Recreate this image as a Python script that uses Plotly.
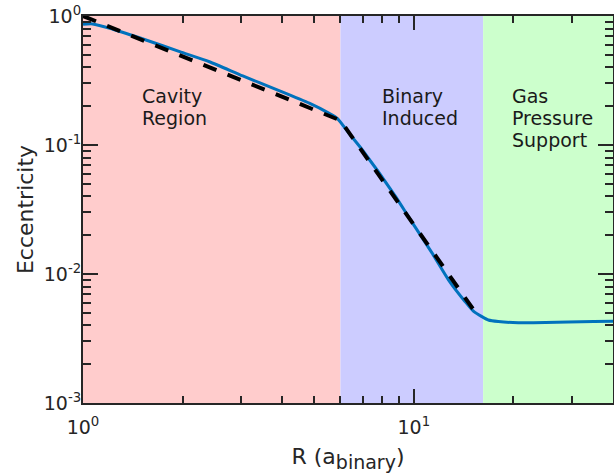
import numpy as np
import plotly.graph_objects as go

# ---- data ----
region_bounds = [1.0, 6.0, 16.2, 40.0]
region_lines = [["Cavity", "Region"], ["Binary", "Induced"], ["Gas", "Pressure", "Support"]]
region_colors = ["#FFCCCC", "#CCCCFF", "#CCFFCC"]

sim_R = [1.00, 1.07, 1.23, 1.55, 1.96, 2.41, 3.04, 3.83, 4.83, 5.55, 5.87, 6.37,
         6.99, 8.8, 9.66, 11.36, 12.74, 14.3, 15.2, 16.07, 16.8, 18.0, 20.7, 25.0,
         29.3, 35.0, 40.0]
sim_e = [0.862, 0.868, 0.79, 0.652, 0.529, 0.442, 0.343, 0.270, 0.211, 0.176, 0.161, 0.123,
         0.0915, 0.040, 0.0275, 0.0145, 0.00898, 0.0061, 0.0051, 0.00467, 0.0044, 0.00428,
         0.00419, 0.0042, 0.00424, 0.00428, 0.0043]

fit_R = [1.0, 6.0, 15.3]
fit_e = [1.0, 0.155, 0.0051]

x_major = [1, 10]
x_major_text = ["10<sup>0</sup>", "10<sup>1</sup>"]
x_minor = [2, 3, 4, 5, 6, 7, 8, 9, 20, 30, 40]
y_major = [1e-3, 1e-2, 1e-1, 1]
y_major_text = ["10<sup>-3</sup>", "10<sup>-2</sup>", "10<sup>-1</sup>", "10<sup>0</sup>"]
y_minor = [m * 10.0 ** p for p in (-3, -2, -1) for m in range(2, 10)]

y_lo, y_hi = 1e-3, 1.0
x_range = [0, np.log10(40.0)]
y_range = [-3, 0]

fig = go.Figure()

for i, col in enumerate(region_colors):
    x0, x1 = region_bounds[i], region_bounds[i + 1]
    fig.add_trace(go.Scatter(x=[x0, x1, x1, x0, x0], y=[y_lo, y_lo, y_hi, y_hi, y_lo],
                             fill="toself", fillcolor=col, mode="none",
                             hoverinfo="skip", showlegend=False))

fig.add_trace(go.Scatter(x=sim_R, y=sim_e, mode="lines",
                         line=dict(color="#0072BD", width=3, shape="spline", smoothing=0.6),
                         showlegend=False))
fig.add_trace(go.Scatter(x=fit_R, y=fit_e, mode="lines",
                         line=dict(color="black", width=4, dash="14px,12px"),
                         showlegend=False))
# invisible trace to activate mirrored tick axes
fig.add_trace(go.Scatter(x=[fit_R[0]], y=[fit_e[0]], xaxis="x2", yaxis="y2",
                         mode="markers", marker=dict(opacity=0), hoverinfo="skip",
                         showlegend=False))

font_family = "DejaVu Sans"
axcol = "#262626"

# region labels, one annotation per line
plot_h_px = 387
ann_x = [0.1075, 0.560, 0.806]
first_top = 0.828
line_step = 22.3 / plot_h_px
for lines, ax_ in zip(region_lines, ann_x):
    for k, txt in enumerate(lines):
        fig.add_annotation(x=ax_, y=first_top - k * line_step, xref="paper", yref="paper",
                           text=txt, showarrow=False, xanchor="left", yanchor="top",
                           align="left", font=dict(family=font_family, size=19, color="#1a1a1a"))

tickfont = dict(family=font_family, size=19, color=axcol)
minor_x = dict(tickmode="array", tickvals=x_minor, ticks="inside", ticklen=7,
               tickcolor=axcol, tickwidth=2)
minor_y = dict(tickmode="array", tickvals=y_minor, ticks="inside", ticklen=8,
               tickcolor=axcol, tickwidth=2)

fig.update_layout(
    xaxis=dict(type="log", range=x_range, tickmode="array", tickvals=x_major,
               ticktext=x_major_text, ticks="inside", ticklen=14, tickwidth=2, tickcolor=axcol,
               minor=minor_x, showline=True, linecolor=axcol, linewidth=2, mirror=True,
               showgrid=False, zeroline=False, tickfont=tickfont, ticklabelstandoff=6,
               title=dict(text="R (a<sub><span style=\"font-size:19px\">binary</span></sub>)",
                          font=dict(family=font_family, size=22, color=axcol), standoff=12)),
    yaxis=dict(type="log", range=y_range, tickmode="array", tickvals=y_major,
               ticktext=y_major_text, ticks="inside", ticklen=15, tickwidth=2, tickcolor=axcol,
               minor=minor_y, showline=True, linecolor=axcol, linewidth=2, mirror=True,
               showgrid=False, zeroline=False, tickfont=tickfont, ticklabelstandoff=-4,
               title=dict(text="Eccentricity",
                          font=dict(family=font_family, size=22, color=axcol), standoff=4)),
    xaxis2=dict(type="log", range=x_range, overlaying="x", anchor="y", side="top",
                tickmode="array", tickvals=x_major, ticks="inside", ticklen=14, tickwidth=2,
                tickcolor=axcol, minor=minor_x, showticklabels=False, showline=False,
                showgrid=False, zeroline=False),
    yaxis2=dict(type="log", range=y_range, overlaying="y", anchor="x", side="right",
                tickmode="array", tickvals=y_major, ticks="inside", ticklen=15, tickwidth=2,
                tickcolor=axcol, minor=minor_y, showticklabels=False, showline=False,
                showgrid=False, zeroline=False),
    width=614, height=476, margin=dict(l=83, r=1, t=16, b=73, autoexpand=False),
    paper_bgcolor="white", plot_bgcolor="white",
)

fig.write_html("out.html")
